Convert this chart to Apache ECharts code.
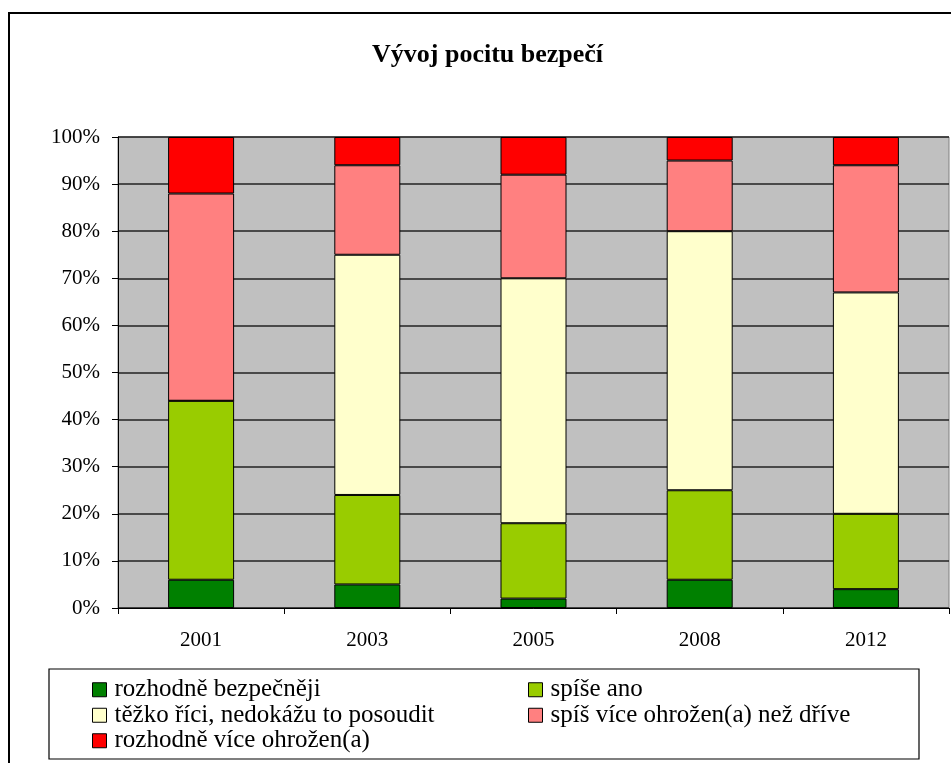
<!DOCTYPE html>
<html>
<head>
<meta charset="utf-8">
<script src="https://cdn.jsdelivr.net/npm/echarts@6/dist/echarts.min.js"></script>
<style>
  html, body { margin: 0; padding: 0; background: #fff; }
  #chart { width: 951px; height: 763px; }
</style>
</head>
<body>
<div id="chart"></div>
<script>
// roky průzkumu
var years = ['2001', '2003', '2005', '2008', '2012']
var seriesNames = [
  'rozhodně bezpečněji',
  'spíše ano',
  'těžko říci, nedokážu to posoudit',
  'spíš více ohrožen(a) než dříve',
  'rozhodně více ohrožen(a)'
]
// podíly v %
var rozhodneBezpecneji = [6, 5, 2, 6, 4]
var spiseAno = [38, 19, 16, 19, 16]
var tezkoRici = [0, 51, 52, 55, 47]
var spisOhrozen = [44, 19, 22, 15, 27]
var rozhodneOhrozen = [12, 6, 8, 5, 6]
var yTicks = [0, 10, 20, 30, 40, 50, 60, 70, 80, 90, 100]

var colors = ['#008000', '#99cc00', '#ffffcc', '#ff8080', '#ff0000']
var font = '"Liberation Serif", "DejaVu Serif", serif'

var chart = echarts.init(document.getElementById('chart'))

function makeSeries(i, data) {
  return {
    name: seriesNames[i],
    type: 'bar',
    stack: 'total',
    barWidth: 66,
    itemStyle: {
      color: colors[i],
      borderColor: '#000',
      borderWidth: 1
    },
    emphasis: { disabled: true },
    data: data
  }
}

function legendCol(left, names) {
  return {
    orient: 'vertical',
    left: left,
    top: 677,
    padding: 0,
    itemWidth: 14,
    itemHeight: 14,
    itemGap: 0,
    icon: 'rect',
    selectedMode: false,
    textStyle: {
      fontFamily: font,
      fontSize: 25,
      lineHeight: 25.5,
      color: '#000',
      padding: [0, 0, 0, 3]
    },
    itemStyle: { borderColor: '#000', borderWidth: 1 },
    data: names
  }
}

chart.setOption({
  animation: false,
  title: {
    text: 'Vývoj pocitu bezpečí',
    left: 372,
    top: 42,
    padding: 0,
    textStyle: {
      fontFamily: font,
      fontSize: 26,
      fontWeight: 'bold',
      color: '#000'
    }
  },
  graphic: [{
    type: 'rect',
    z: -10,
    shape: { x: 9, y: 13, width: 960, height: 770 },
    style: { fill: 'none', stroke: '#000', lineWidth: 2 }
  }, {
    type: 'rect',
    z: -10,
    shape: { x: 49, y: 669, width: 870, height: 90 },
    style: { fill: '#fff', stroke: '#000', lineWidth: 1.2 }
  }],
  legend: [
    legendCol(92, [seriesNames[0], seriesNames[2], seriesNames[4]]),
    legendCol(528, [seriesNames[1], seriesNames[3]])
  ],
  grid: {
    left: 118,
    right: 2,
    top: 137,
    bottom: 155,
    show: true,
    backgroundColor: '#c0c0c0',
    borderColor: '#808080',
    borderWidth: 1
  },
  xAxis: {
    type: 'category',
    data: years,
    axisLine: { lineStyle: { color: '#000', width: 1 } },
    axisTick: { show: true, length: 6, lineStyle: { color: '#000' } },
    axisLabel: {
      margin: 22,
      fontFamily: font,
      fontSize: 21,
      color: '#000'
    }
  },
  yAxis: {
    type: 'value',
    min: yTicks[0],
    max: yTicks[yTicks.length - 1],
    interval: 10,
    axisLine: { show: true, lineStyle: { color: '#000', width: 1 } },
    axisTick: { show: true, length: 6, lineStyle: { color: '#000' } },
    splitLine: { show: true, lineStyle: { color: '#222', width: 1.5 } },
    axisLabel: {
      margin: 18,
      formatter: '{value}%',
      fontFamily: font,
      fontSize: 21,
      color: '#000'
    }
  },
  series: [
    makeSeries(0, rozhodneBezpecneji),
    makeSeries(1, spiseAno),
    makeSeries(2, tezkoRici),
    makeSeries(3, spisOhrozen),
    makeSeries(4, rozhodneOhrozen)
  ]
})
</script>
</body>
</html>
